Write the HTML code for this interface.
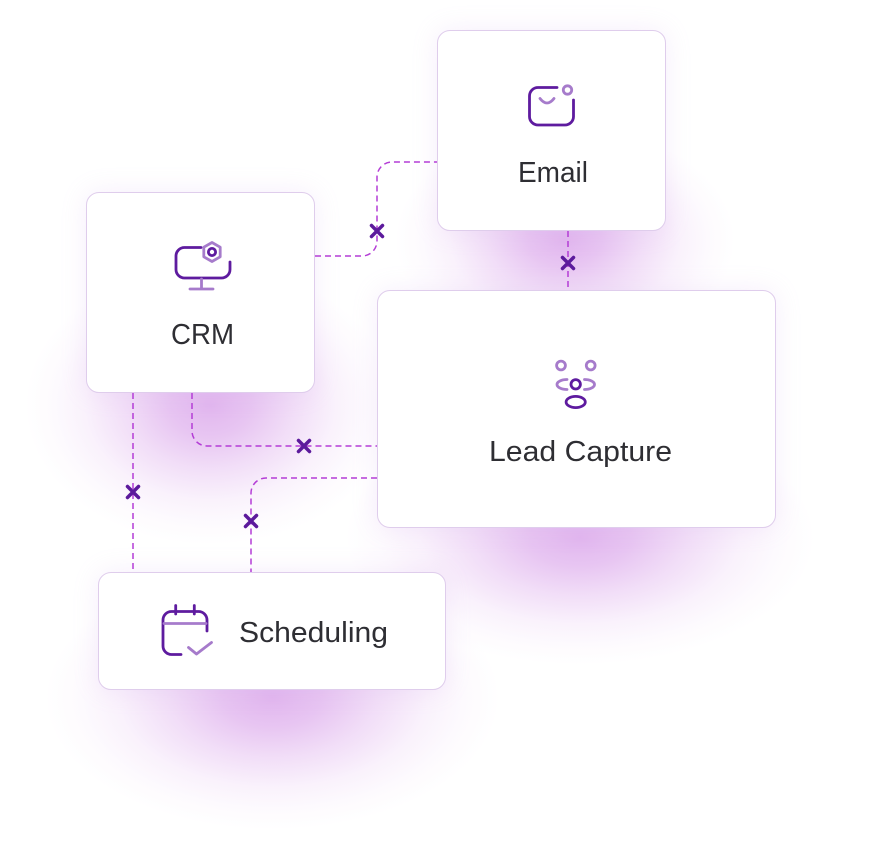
<!DOCTYPE html>
<html>
<head>
<meta charset="utf-8">
<style>
  html,body{margin:0;padding:0;background:#fff;}
  body{width:869px;height:850px;position:relative;overflow:hidden;}
  .g{position:absolute;border-radius:50%;background:radial-gradient(closest-side, rgba(196,110,222,0.50) 0%, rgba(196,110,222,0.40) 22%, rgba(196,110,222,0.23) 45%, rgba(196,110,222,0.09) 68%, rgba(196,110,222,0.03) 85%, rgba(196,110,222,0) 100%);}
  .card{position:absolute;border-radius:13px;background:#fff;border:1px solid #dfcdec;box-sizing:border-box;box-shadow:0 0 26px rgba(200,150,230,0.16);}
  svg{position:absolute;left:0;top:0;}
</style>
</head>
<body>
  <!-- glows -->
  <div class="g" style="left:395px;top:125px;width:340px;height:230px;"></div>
  <div class="g" style="left:25px;top:265px;width:370px;height:280px;"></div>
  <div class="g" style="left:345px;top:410px;width:470px;height:255px;"></div>
  <div class="g" style="left:45px;top:565px;width:455px;height:265px;"></div>
  <!-- cards -->
  <div class="card" style="left:437px;top:30px;width:229px;height:201px;"></div>
  <div class="card" style="left:86px;top:192px;width:229px;height:201px;"></div>
  <div class="card" style="left:377px;top:290px;width:399px;height:238px;"></div>
  <div class="card" style="left:98px;top:572px;width:348px;height:118px;"></div>

  <svg width="869" height="850" viewBox="0 0 869 850" xmlns="http://www.w3.org/2000/svg">
    <!-- connectors -->
    <g fill="none" stroke="#b43dd6" stroke-width="1.5" stroke-dasharray="6 4">
      <path d="M315 256 H362 A15 15 0 0 0 377 241 V177 A15 15 0 0 1 392 162 H437"/>
      <path d="M568 231 V290"/>
      <path d="M192 393 V431 A15 15 0 0 0 207 446 H377"/>
      <path d="M133 393 V572"/>
      <path d="M377 478 H266 A15 15 0 0 0 251 493 V572"/>
    </g>
    <!-- x markers -->
    <g stroke="#5c1a9c" stroke-width="3.5" stroke-linecap="round">
      <path d="M371.5 225.5 L382.5 236.5 M382.5 225.5 L371.5 236.5"/>
      <path d="M562.5 257.5 L573.5 268.5 M573.5 257.5 L562.5 268.5"/>
      <path d="M298.5 440.5 L309.5 451.5 M309.5 440.5 L298.5 451.5"/>
      <path d="M127.5 486.5 L138.5 497.5 M138.5 486.5 L127.5 497.5"/>
      <path d="M245.5 515.5 L256.5 526.5 M256.5 515.5 L245.5 526.5"/>
    </g>

    <!-- Email icon -->
    <g fill="none" stroke-width="2.8" stroke-linecap="round" stroke-linejoin="round">
      <path stroke="#5e1b9f" d="M557 87.5 H538 A8.5 8.5 0 0 0 529.5 96 V116.5 A8.5 8.5 0 0 0 538 125 H565 A8.5 8.5 0 0 0 573.5 116.5 V100"/>
      <circle stroke="#a67bcb" cx="567.5" cy="90" r="4.2"/>
      <path stroke="#a67bcb" d="M540 98.5 Q547 107.5 554 98.5"/>
    </g>
    <!-- CRM icon -->
    <g fill="none" stroke-width="2.8" stroke-linecap="round" stroke-linejoin="round">
      <path stroke="#5e1b9f" d="M201 247.5 H184.5 A8.5 8.5 0 0 0 176 256 V269.5 A8.5 8.5 0 0 0 184.5 278 H221.5 A8.5 8.5 0 0 0 230 269.5 V262"/>
      <path stroke="#a67bcb" d="M201.5 279 V289 M190 289 H213"/>
      <polygon stroke="#a67bcb" points="212,242.5 220.2,247.2 220.2,256.8 212,261.5 203.8,256.8 203.8,247.2"/>
      <circle stroke="#5e1b9f" cx="212" cy="252" r="3.6"/>
    </g>
    <!-- Lead Capture icon -->
    <g fill="none" stroke-width="2.8" stroke-linecap="round" stroke-linejoin="round">
      <circle stroke="#a67bcb" cx="561" cy="365.5" r="4.4"/>
      <circle stroke="#a67bcb" cx="590.7" cy="365.5" r="4.4"/>
      <path stroke="#a67bcb" d="M567 379.5 A10 5 0 0 0 567 389.5"/>
      <path stroke="#a67bcb" d="M584.5 379.5 A10 5 0 0 1 584.5 389.5"/>
      <circle stroke="#5e1b9f" cx="575.7" cy="384.3" r="4.7"/>
      <ellipse stroke="#5e1b9f" cx="575.7" cy="402" rx="9.6" ry="5.6"/>
    </g>
    <!-- Scheduling icon -->
    <g fill="none" stroke-width="2.8" stroke-linecap="round" stroke-linejoin="round">
      <path stroke="#5e1b9f" d="M207 631 V620 A8.5 8.5 0 0 0 198.5 611.5 H171.5 A8.5 8.5 0 0 0 163 620 V646 A8.5 8.5 0 0 0 171.5 654.5 H181"/>
      <path stroke="#a67bcb" d="M164 623.5 H206"/>
      <path stroke="#5e1b9f" d="M175.7 605.5 V614 M194.3 605.5 V614"/>
      <path stroke="#a67bcb" d="M188.5 647.5 L196.5 654 L211.5 642.5"/>
    </g>

    <!-- labels -->
    <g font-family="'Liberation Sans', Arial, sans-serif" font-size="29" fill="#2e2e33">
      <text x="518" y="182" textLength="70" lengthAdjust="spacingAndGlyphs">Email</text>
      <text x="171" y="344" textLength="63" lengthAdjust="spacingAndGlyphs">CRM</text>
      <text x="489" y="461" textLength="183" lengthAdjust="spacingAndGlyphs">Lead Capture</text>
      <text x="239" y="642" textLength="149" lengthAdjust="spacingAndGlyphs">Scheduling</text>
    </g>
  </svg>
</body>
</html>
